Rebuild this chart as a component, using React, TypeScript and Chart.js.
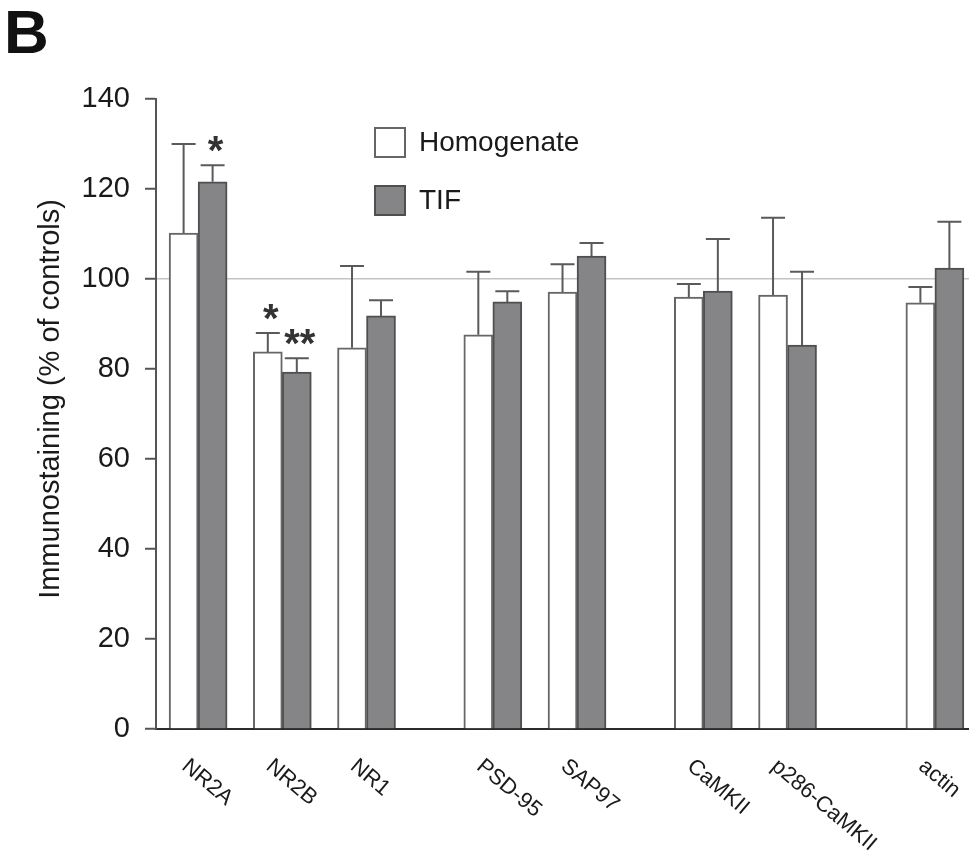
import React, { useEffect, useRef } from 'react';
import { Chart, registerables } from 'chart.js';

Chart.register(...registerables);

// ---- Data ----
const categories = ['NR2A', 'NR2B', 'NR1', 'PSD-95', 'SAP97', 'CaMKII', 'p286-CaMKII', 'actin'];
const homogenateMean = [110.2, 83.8, 84.7, 87.6, 97.1, 96.0, 96.4, 94.7];
const homogenateSem = [19.8, 4.2, 18.2, 14.0, 6.2, 2.9, 17.2, 3.5];
const tifMean = [121.6, 79.3, 91.8, 94.9, 105.1, 97.3, 85.3, 102.4];
const tifSem = [3.7, 3.1, 3.5, 2.4, 2.9, 11.6, 16.3, 10.3];
const homogenateSig = ['', '*', '', '', '', '', '', ''];
const tifSig = ['*', '**', '', '', '', '', '', ''];
const yTicks = [0, 20, 40, 60, 80, 100, 120, 140];
const referenceLevel = 100;
const seriesNames = ['Homogenate', 'TIF'];
const yTitle = 'Immunostaining (% of controls)';
const panelLetter = 'B';

// ---- Layout (slots on the category axis, uneven group spacing) ----
const SLOT_LEAD = 2;
const SLOT_GAPS = [4, 4, 6, 4, 6, 4, 7];
const SLOT_COUNT = 40;

const FONT = "'Liberation Sans', Arial, Helvetica, sans-serif";
const INK = '#1a1a1a';

function buildSlots() {
  const slotOf: number[] = [];
  let s = SLOT_LEAD;
  categories.forEach((_, i) => {
    slotOf.push(s);
    if (i < SLOT_GAPS.length) s += SLOT_GAPS[i];
  });
  const labels = new Array(SLOT_COUNT).fill('');
  slotOf.forEach((slot, i) => (labels[slot] = categories[i]));
  const spread = (vals: number[]) => {
    const arr: (number | null)[] = new Array(SLOT_COUNT).fill(null);
    slotOf.forEach((slot, i) => (arr[slot] = vals[i]));
    return arr;
  };
  return { slotOf, labels, spread };
}

export default function App() {
  const ref = useRef<HTMLCanvasElement | null>(null);

  useEffect(() => {
    document.documentElement.style.overflow = 'hidden';
    document.body.style.overflow = 'hidden';
    const canvas = ref.current;
    if (!canvas) return;
    const { slotOf, labels, spread } = buildSlots();
    const means = [homogenateMean, tifMean];
    const sems = [homogenateSem, tifSem];
    const sigs = [homogenateSig, tifSig];

    const annotations = {
      id: 'annotations',
      afterDatasetsDraw(chart: any) {
        const ctx = chart.ctx;
        const y = chart.scales.y;
        const x = chart.scales.x;
        ctx.save();
        // error bars + significance marks
        for (let d = 0; d < 2; d++) {
          const meta = chart.getDatasetMeta(d);
          slotOf.forEach((slot, i) => {
            const el = meta.data[slot];
            if (!el) return;
            const cx = el.x;
            const top = y.getPixelForValue(means[d][i]);
            const errTop = y.getPixelForValue(means[d][i] + sems[d][i]);
            ctx.strokeStyle = '#5a5a5a';
            ctx.lineWidth = 2;
            ctx.beginPath();
            ctx.moveTo(cx, top);
            ctx.lineTo(cx, errTop);
            ctx.moveTo(cx - 12, errTop);
            ctx.lineTo(cx + 12, errTop);
            ctx.stroke();
            const sig = sigs[d][i];
            if (sig) {
              ctx.fillStyle = '#333';
              ctx.font = `bold 40px ${FONT}`;
              ctx.textAlign = 'center';
              ctx.textBaseline = 'alphabetic';
              ctx.fillText(sig, cx + 3, errTop - 1);
            }
          });
        }
        // rotated category labels
        ctx.fillStyle = INK;
        ctx.font = `22px ${FONT}`;
        ctx.textAlign = 'left';
        ctx.textBaseline = 'alphabetic';
        slotOf.forEach((slot, i) => {
          const cx = x.getPixelForValue(slot);
          ctx.save();
          ctx.translate(cx - 7, 748);
          ctx.rotate((40 * Math.PI) / 180);
          ctx.fillText(categories[i], 0, 16);
          ctx.restore();
        });
        // y-axis title
        ctx.save();
        ctx.font = `29px ${FONT}`;
        ctx.fillStyle = INK;
        ctx.textAlign = 'center';
        ctx.textBaseline = 'alphabetic';
        ctx.translate(51, 391);
        ctx.rotate(-Math.PI / 2);
        ctx.fillText(yTitle, 0, 0);
        ctx.restore();
        // legend
        const ds = chart.data.datasets;
        const boxes = [119, 177];
        ds.forEach((dset: any, k: number) => {
          const by = boxes[k];
          ctx.fillStyle = dset.backgroundColor;
          ctx.fillRect(366, by, 32, 31);
          ctx.strokeStyle = dset.borderColor;
          ctx.lineWidth = 2;
          ctx.strokeRect(367, by + 1, 30, 29);
          ctx.fillStyle = INK;
          ctx.font = `28px ${FONT}`;
          ctx.textAlign = 'left';
          ctx.textBaseline = 'middle';
          ctx.fillText(dset.label, 411, by + 16);
        });
        // panel letter
        ctx.fillStyle = '#111';
        ctx.font = `bold 62px ${FONT}`;
        ctx.textAlign = 'left';
        ctx.textBaseline = 'alphabetic';
        ctx.fillText(panelLetter, -4, 45);
        ctx.restore();
      },
    };

    const chart = new Chart(canvas, {
      type: 'bar',
      data: {
        labels,
        datasets: [
          {
            label: seriesNames[0],
            data: spread(homogenateMean),
            backgroundColor: '#ffffff',
            borderColor: '#666666',
            borderWidth: 2,
            barThickness: 29,
          },
          {
            label: seriesNames[1],
            data: spread(tifMean),
            backgroundColor: '#858587',
            borderColor: '#4f4f4f',
            borderWidth: 2,
            barThickness: 29,
          },
        ],
      },
      options: {
        responsive: false,
        animation: false,
        layout: { padding: { top: 91, left: 0, right: 0, bottom: 0 } },
        plugins: {
          legend: { display: false },
          tooltip: { enabled: false },
          title: { display: false },
        },
        scales: {
          x: {
            type: 'category',
            offset: false,
            grid: { display: false, drawTicks: false },
            border: { display: true, color: '#2b2b2b', width: 2 },
            ticks: { display: false, autoSkip: false },
            afterFit: (s: any) => {
              s.height = 124;
            },
          },
          y: {
            min: 0,
            max: 140,
            afterBuildTicks: (s: any) => {
              s.ticks = yTicks.map((v) => ({ value: v }));
            },
            ticks: {
              font: { size: 29, family: FONT },
              color: INK,
              padding: 15,
            },
            grid: {
              color: (c: any) =>
                c.tick && c.tick.value === referenceLevel ? '#c4c4c4' : 'rgba(0,0,0,0)',
              lineWidth: 1.5,
              tickColor: '#555555',
              tickLength: 11,
              tickWidth: 2,
            },
            border: { display: true, color: '#555555', width: 2 },
            afterFit: (s: any) => {
              s.width = 148;
            },
          },
        },
      },
      plugins: [annotations],
    } as any);

    return () => chart.destroy();
  }, []);

  return (
    <div>
      <canvas ref={ref} width={969} height={845} style={{ display: 'block' }} />
    </div>
  );
}
